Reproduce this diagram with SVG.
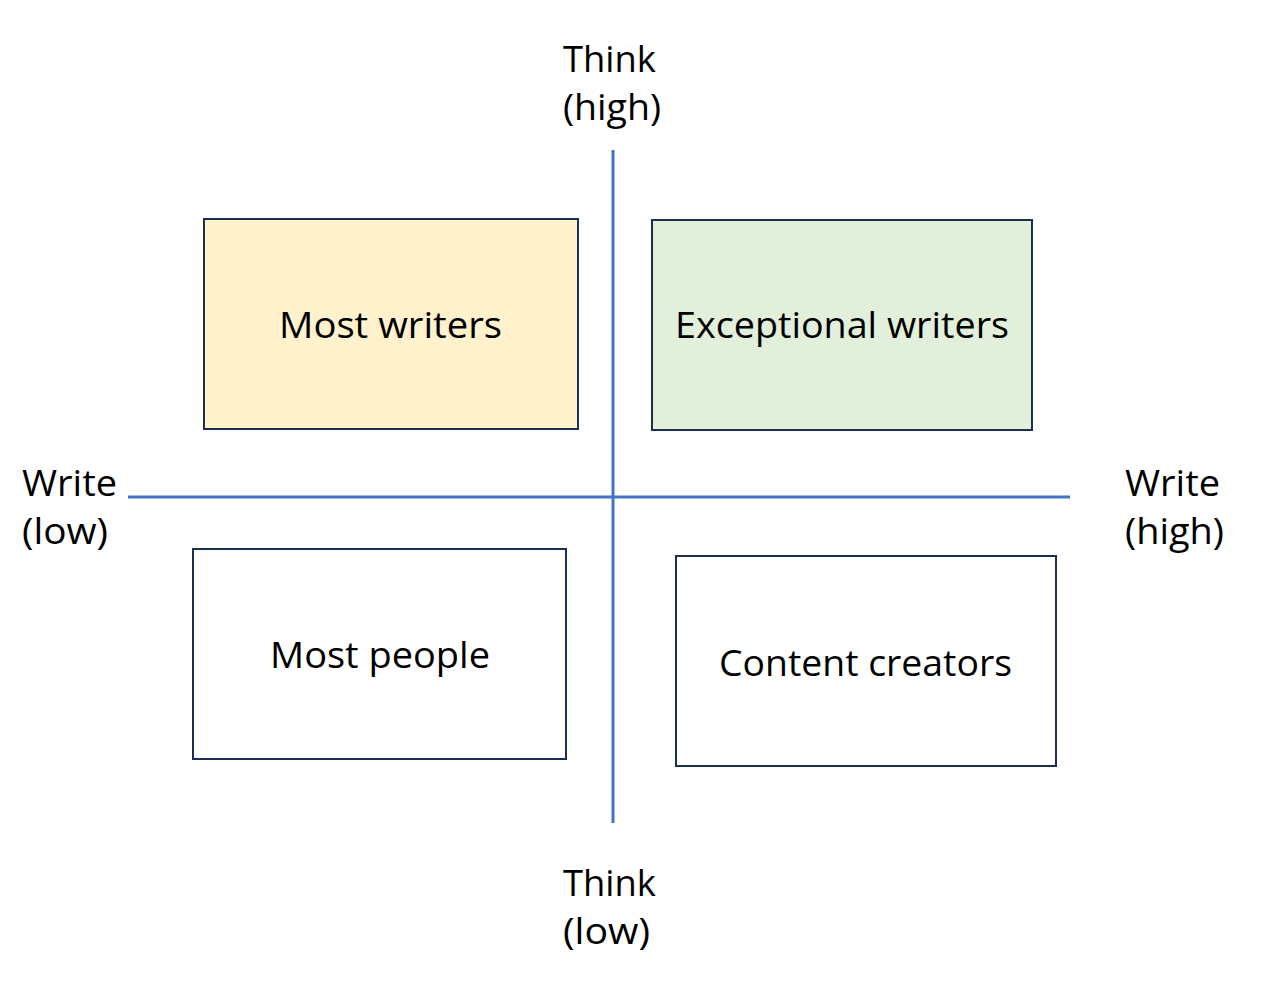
<svg xmlns="http://www.w3.org/2000/svg" width="1268" height="994" viewBox="0 0 1268 994">
<style>
.lbl{font-family:"Open Sans","Liberation Sans",sans-serif;font-size:37px;fill:#000}
.box{stroke:#1b2f52;stroke-width:2}
.axis{stroke:#4472c4;stroke-width:3;fill:none}
</style>
<rect width="1268" height="994" fill="#ffffff"/>
<g id="connectors">
<line class="axis" x1="128" y1="497" x2="1070" y2="497"/>
<line class="axis" x1="613" y1="150" x2="613" y2="823"/>
</g>
<g id="axis-top">
<text class="lbl" x="563" y="72" textLength="93" lengthAdjust="spacingAndGlyphs">Think</text>
<text class="lbl" x="563" y="120" textLength="98" lengthAdjust="spacingAndGlyphs">(high)</text>
</g>
<g id="axis-bottom">
<text class="lbl" x="563" y="896" textLength="93" lengthAdjust="spacingAndGlyphs">Think</text>
<text class="lbl" x="563" y="944" textLength="87" lengthAdjust="spacingAndGlyphs">(low)</text>
</g>
<g id="axis-left">
<text class="lbl" x="22" y="496" textLength="95" lengthAdjust="spacingAndGlyphs">Write</text>
<text class="lbl" x="22" y="544" textLength="86" lengthAdjust="spacingAndGlyphs">(low)</text>
</g>
<g id="axis-right">
<text class="lbl" x="1125" y="496" textLength="95" lengthAdjust="spacingAndGlyphs">Write</text>
<text class="lbl" x="1125" y="544" textLength="99" lengthAdjust="spacingAndGlyphs">(high)</text>
</g>
<g id="most-writers">
<rect class="box" x="204" y="219" width="374" height="210" fill="#fff2cc"/>
<text class="lbl" x="279" y="338" textLength="223" lengthAdjust="spacingAndGlyphs">Most writers</text>
</g>
<g id="exceptional-writers">
<rect class="box" x="652" y="220" width="380" height="210" fill="#e2efda"/>
<text class="lbl" x="675" y="338" textLength="334" lengthAdjust="spacingAndGlyphs">Exceptional writers</text>
</g>
<g id="most-people">
<rect class="box" x="193" y="549" width="373" height="210" fill="#ffffff"/>
<text class="lbl" x="270" y="668" textLength="220" lengthAdjust="spacingAndGlyphs">Most people</text>
</g>
<g id="content-creators">
<rect class="box" x="676" y="556" width="380" height="210" fill="#ffffff"/>
<text class="lbl" x="719" y="676" textLength="293" lengthAdjust="spacingAndGlyphs">Content creators</text>
</g>
</svg>
